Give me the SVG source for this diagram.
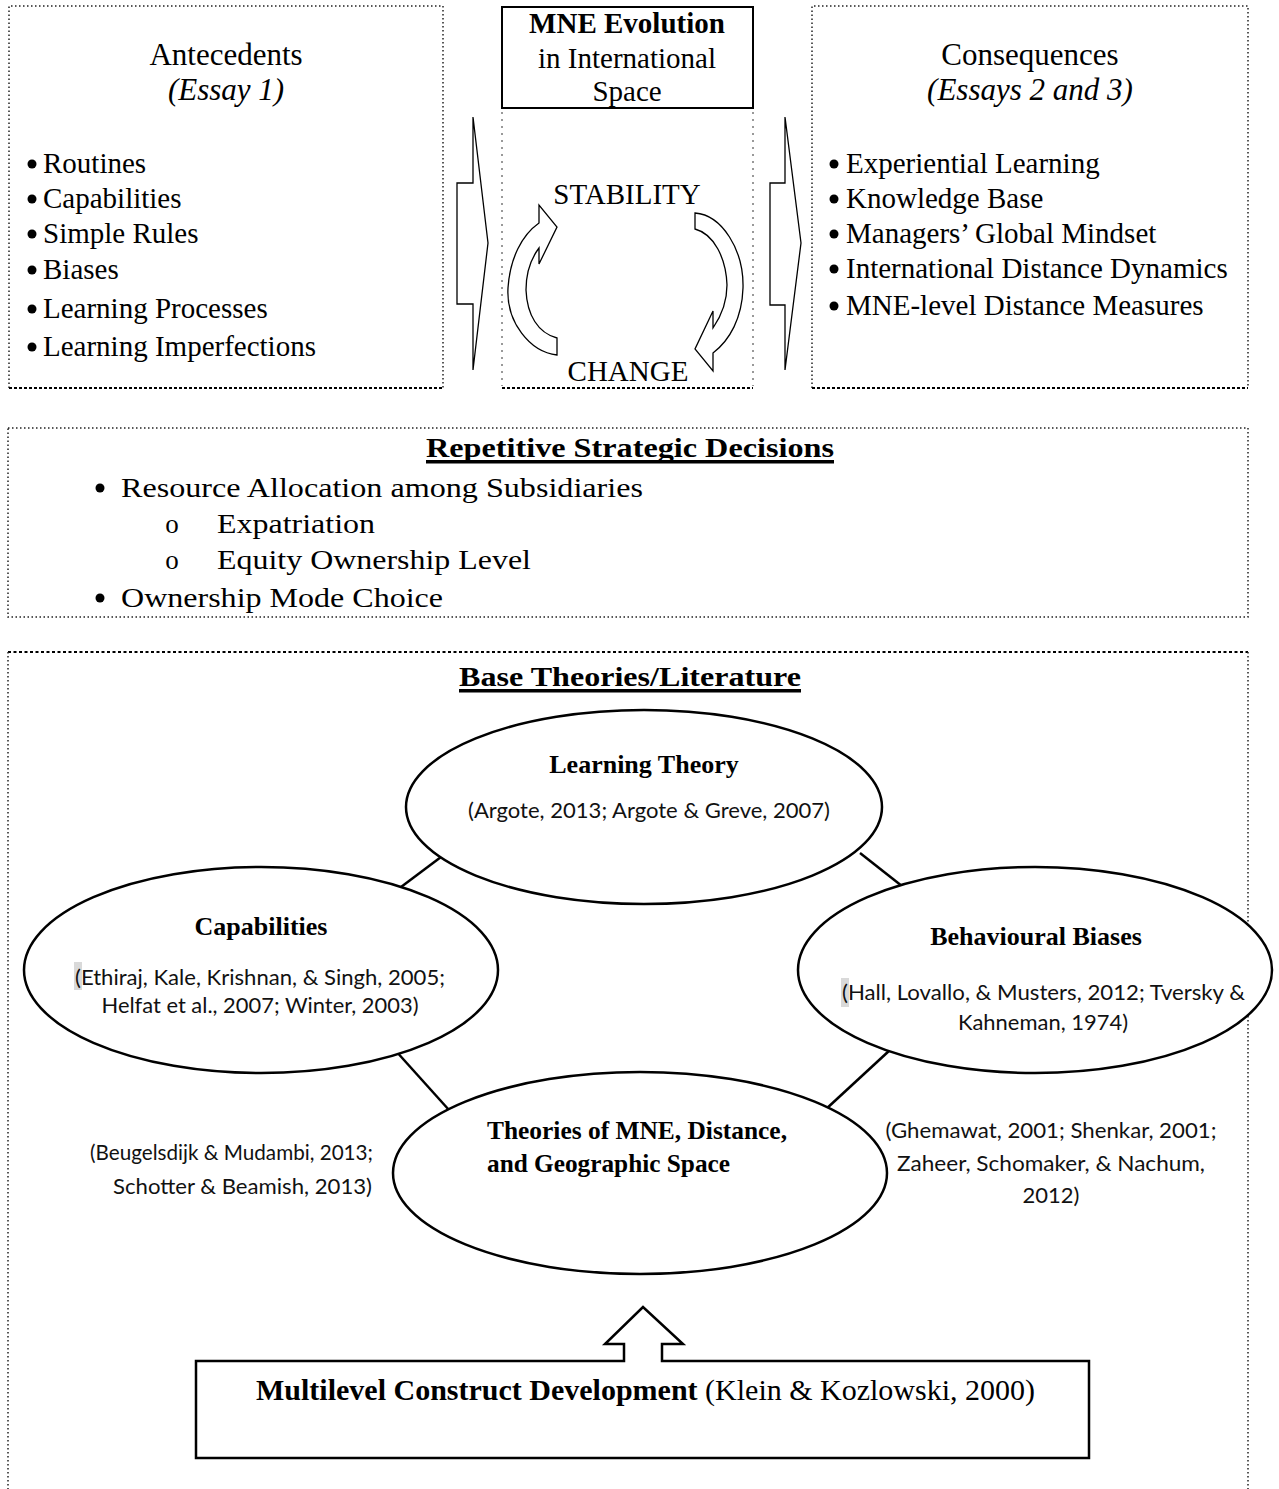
<svg xmlns="http://www.w3.org/2000/svg" width="1279" height="1489" viewBox="0 0 1279 1489">
<style>
.s{font-family:"Liberation Serif","Times New Roman",serif;fill:#000}
.hdr{font-size:31px}
.it{font-size:29px}
.rp{font-size:27px}
.b{font-weight:bold}
.c{font-family:Lato,"Open Sans",sans-serif;font-size:22px;fill:#111}
.ell{fill:#fff;stroke:#000;stroke-width:2.5}
.conn{stroke:#000;stroke-width:2.5}
.dot{fill:none;stroke:#222;stroke-width:1.5;stroke-dasharray:1.5 2.5}
.gdot{fill:none;stroke:#999;stroke-width:2;stroke-dasharray:2 5}
.dash{fill:none;stroke:#000;stroke-width:2;stroke-dasharray:3 2}
.shape{fill:#fff;stroke:#000;stroke-width:1.3}
.hl{fill:#d9d9d9}
</style>
<rect width="1279" height="1489" fill="#fff"/>

<g id="antecedents">
<path class="dot" d="M9,388 L9,6 L443,6 L443,388"/>
<line class="dash" x1="9" y1="388" x2="443" y2="388"/>
<text class="s hdr" x="226" y="65" text-anchor="middle">Antecedents</text>
<text class="s hdr" x="226" y="100" text-anchor="middle" font-style="italic">(Essay 1)</text>
<g class="s it">
<circle cx="32" cy="164" r="4.5"/><text x="43" y="173">Routines</text>
<circle cx="32" cy="199" r="4.5"/><text x="43" y="208">Capabilities</text>
<circle cx="32" cy="234" r="4.5"/><text x="43" y="243">Simple Rules</text>
<circle cx="32" cy="270" r="4.5"/><text x="43" y="279">Biases</text>
<circle cx="32" cy="309" r="4.5"/><text x="43" y="318">Learning Processes</text>
<circle cx="32" cy="347" r="4.5"/><text x="43" y="356">Learning Imperfections</text>
</g>
</g>

<g id="mne-evolution">
<rect x="502" y="7" width="251" height="101" fill="#fff" stroke="#000" stroke-width="2"/>
<text class="s it b" x="627" y="33" text-anchor="middle">MNE Evolution</text>
<text class="s it" x="627" y="68" text-anchor="middle">in International</text>
<text class="s it" x="627" y="101" text-anchor="middle">Space</text>
<line class="gdot" x1="502" y1="112" x2="502" y2="386"/>
<line class="gdot" x1="753" y1="112" x2="753" y2="386"/>
<line class="dash" x1="502" y1="388" x2="753" y2="388"/>
<text class="s it" x="627" y="204" text-anchor="middle">STABILITY</text>
<text class="s it" x="628" y="381" text-anchor="middle">CHANGE</text>
<path class="shape" d="M557,355 C530,352 506,322 508,288 C510,258 522,235 539,223 L539,205 L557,227 L539,264 L539,248 C530,260 526,275 526,290 C527,315 538,333 557,338 Z"/>
<path class="shape" d="M695,213 C722,215 744,250 743,288 C742,318 730,340 713,353 L713,371 L695,349 L713,311 L713,328 C722,315 727,300 727,285 C726,258 714,234 695,229 Z"/>
</g>

<g id="consequences">
<path class="dot" d="M812,388 L812,6 L1248,6 L1248,388"/>
<line class="dash" x1="812" y1="388" x2="1248" y2="388"/>
<text class="s hdr" x="1030" y="65" text-anchor="middle">Consequences</text>
<text class="s hdr" x="1030" y="100" text-anchor="middle" font-style="italic">(Essays 2 and 3)</text>
<g class="s it">
<circle cx="834" cy="164" r="4.5"/><text x="846" y="173">Experiential Learning</text>
<circle cx="834" cy="199" r="4.5"/><text x="846" y="208">Knowledge Base</text>
<circle cx="834" cy="234" r="4.5"/><text x="846" y="243">Managers’ Global Mindset</text>
<circle cx="834" cy="269" r="4.5"/><text x="846" y="278">International Distance Dynamics</text>
<circle cx="834" cy="306" r="4.5"/><text x="846" y="315">MNE-level Distance Measures</text>
</g>
</g>

<g id="connectors">
<polygon class="shape" points="457,183 473,183 473,117 488,243 473,370 473,304 457,304"/>
<polygon class="shape" points="770,183 785,183 785,117 801,243 785,370 785,305 770,305"/>
<line class="conn" x1="397" y1="890" x2="441" y2="857"/>
<line class="conn" x1="860" y1="853" x2="907" y2="890"/>
<line class="conn" x1="395" y1="1050" x2="449" y2="1110"/>
<line class="conn" x1="890" y1="1050" x2="825" y2="1110"/>
</g>

<g id="repetitive-decisions">
<rect class="dot" x="8" y="428" width="1240" height="189"/>
<text class="s rp b" x="426" y="457" textLength="408" lengthAdjust="spacingAndGlyphs">Repetitive Strategic Decisions</text>
<rect x="426" y="460" width="408" height="3.5"/>
<circle cx="100" cy="488" r="4.5"/>
<text class="s rp" x="121" y="497" textLength="522" lengthAdjust="spacingAndGlyphs">Resource Allocation among Subsidiaries</text>
<text class="s rp" x="172" y="533" text-anchor="middle">o</text>
<text class="s rp" x="217" y="533" textLength="158" lengthAdjust="spacingAndGlyphs">Expatriation</text>
<text class="s rp" x="172" y="569" text-anchor="middle">o</text>
<text class="s rp" x="217" y="569" textLength="314" lengthAdjust="spacingAndGlyphs">Equity Ownership Level</text>
<circle cx="100" cy="598" r="4.5"/>
<text class="s rp" x="121" y="607" textLength="322" lengthAdjust="spacingAndGlyphs">Ownership Mode Choice</text>
</g>

<g id="base-theories">
<line x1="8" y1="652" x2="1248" y2="652" stroke="#000" stroke-width="2" stroke-dasharray="3 2.5"/>
<path class="dot" d="M8,652 L8,1489 M1248,652 L1248,1489"/>
<text class="s rp b" x="459" y="686" textLength="342" lengthAdjust="spacingAndGlyphs">Base Theories/Literature</text>
<rect x="459" y="689" width="342" height="3.5"/>
</g>

<g id="learning-theory">
<ellipse class="ell" cx="644" cy="807" rx="238" ry="97"/>
<text class="s b" font-size="26" x="644" y="773" text-anchor="middle">Learning Theory</text>
<text class="c" x="649" y="818" text-anchor="middle" textLength="362" lengthAdjust="spacingAndGlyphs">(Argote, 2013; Argote &amp; Greve, 2007)</text>
</g>

<g id="capabilities">
<ellipse class="ell" cx="261" cy="970" rx="237" ry="103"/>
<text class="s b" font-size="26" x="261" y="935" text-anchor="middle">Capabilities</text>
<rect class="hl" x="74" y="962" width="8" height="28"/>
<text class="c" x="75" y="985" textLength="370" lengthAdjust="spacingAndGlyphs">(Ethiraj, Kale, Krishnan, &amp; Singh, 2005;</text>
<text class="c" x="260" y="1013" text-anchor="middle" textLength="317" lengthAdjust="spacingAndGlyphs">Helfat et al., 2007; Winter, 2003)</text>
</g>

<g id="behavioural-biases">
<ellipse class="ell" cx="1035" cy="970" rx="237" ry="103"/>
<text class="s b" font-size="26" x="1036" y="945" text-anchor="middle">Behavioural Biases</text>
<rect class="hl" x="841" y="978" width="8" height="29"/>
<text class="c" x="842" y="1000" textLength="403" lengthAdjust="spacingAndGlyphs">(Hall, Lovallo, &amp; Musters, 2012; Tversky &amp;</text>
<text class="c" x="1043" y="1030" text-anchor="middle" textLength="170" lengthAdjust="spacingAndGlyphs">Kahneman, 1974)</text>
</g>

<g id="mne-theories">
<ellipse class="ell" cx="640" cy="1173" rx="247" ry="101"/>
<text class="s b" font-size="26" x="487" y="1139" textLength="300" lengthAdjust="spacingAndGlyphs">Theories of MNE, Distance,</text>
<text class="s b" font-size="26" x="487" y="1172" textLength="243" lengthAdjust="spacingAndGlyphs">and Geographic Space</text>
</g>

<g id="cite-left">
<text class="c" x="373" y="1160" text-anchor="end" textLength="283" lengthAdjust="spacingAndGlyphs">(Beugelsdijk &amp; Mudambi, 2013;</text>
<text class="c" x="372" y="1194" text-anchor="end" textLength="259" lengthAdjust="spacingAndGlyphs">Schotter &amp; Beamish, 2013)</text>
</g>

<g id="cite-right">
<text class="c" x="1051" y="1138" text-anchor="middle" textLength="331" lengthAdjust="spacingAndGlyphs">(Ghemawat, 2001; Shenkar, 2001;</text>
<text class="c" x="1051" y="1171" text-anchor="middle" textLength="308" lengthAdjust="spacingAndGlyphs">Zaheer, Schomaker, &amp; Nachum,</text>
<text class="c" x="1051" y="1203" text-anchor="middle">2012)</text>
</g>

<g id="multilevel">
<path fill="#fff" stroke="#000" stroke-width="2.5" d="M624,1361 L196,1361 L196,1458 L1089,1458 L1089,1361 L662,1361 L662,1344 L683,1344 L643,1307 L605,1344 L624,1344 Z"/>
<text class="s" font-size="30" x="256" y="1400"><tspan font-weight="bold">Multilevel Construct Development</tspan> (Klein &amp; Kozlowski, 2000)</text>
</g>
</svg>
